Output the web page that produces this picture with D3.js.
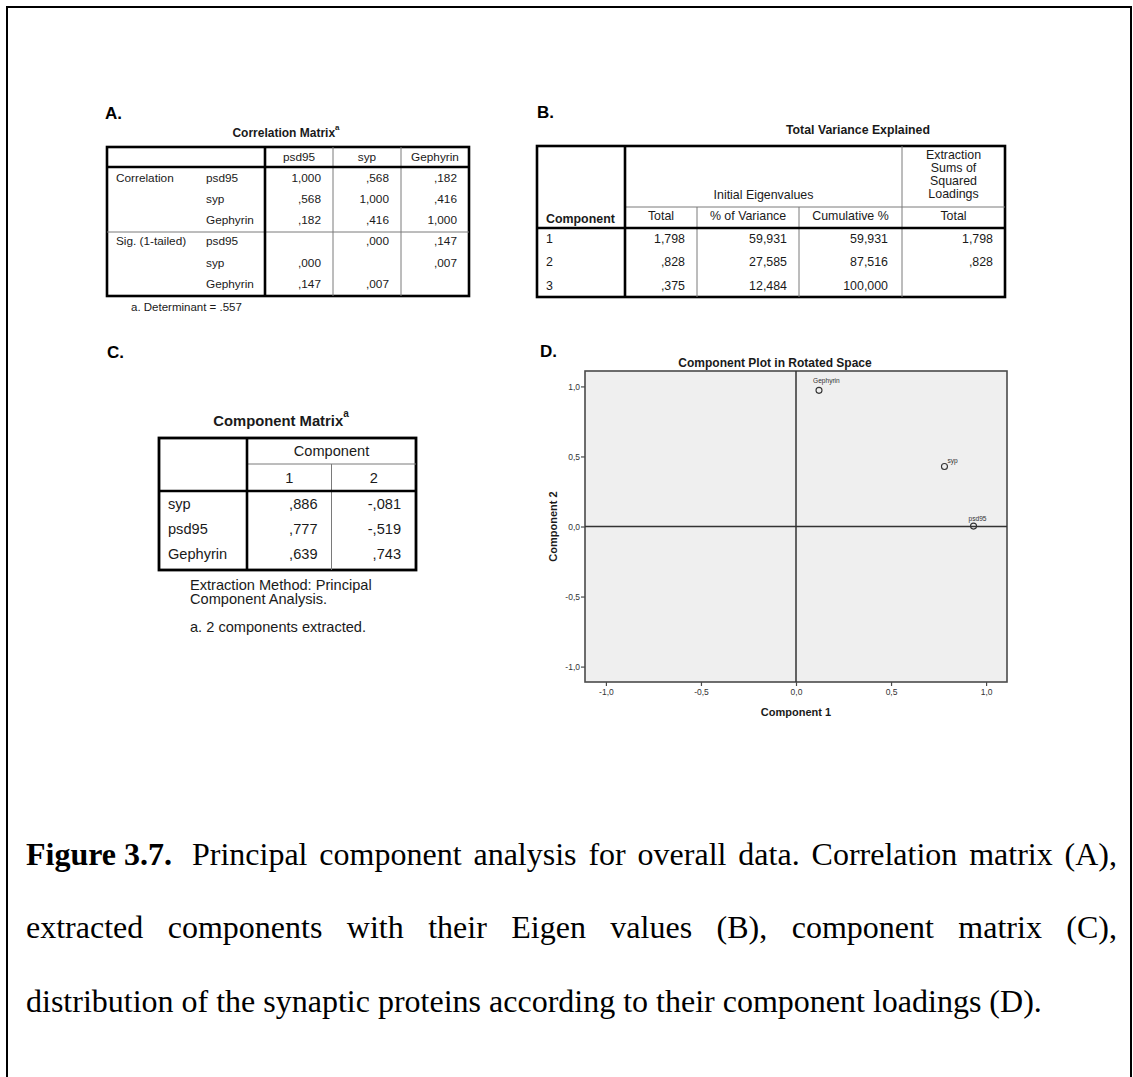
<!DOCTYPE html>
<html>
<head>
<meta charset="utf-8">
<script src="https://cdn.jsdelivr.net/npm/d3@7"></script>
<style>
  html, body { margin: 0; padding: 0; background: #fff; }
  svg { display: block; }
  text { font-family: "Liberation Sans", Arial, sans-serif; fill: #1a1a1a; }
  .serif { font-family: "Liberation Serif", "Times New Roman", serif; fill: #000; }
</style>
</head>
<body>
<script>
// ---- A. Correlation matrix ----
const corrVars = ["psd95", "syp", "Gephyrin"];
const corrValues = [
  [1.000, 0.568, 0.182],
  [0.568, 1.000, 0.416],
  [0.182, 0.416, 1.000]
];
const sigValues = [
  [null, 0.000, 0.147],
  [0.000, null, 0.007],
  [0.147, 0.007, null]
];
const determinant = ".557";

// ---- B. Total variance explained ----
const components = [1, 2, 3];
const eigenTotal = [1.798, 0.828, 0.375];
const eigenPctVariance = [59.931, 27.585, 12.484];
const eigenCumulative = [59.931, 87.516, 100.000];
const extractionTotal = [1.798, 0.828, null];

// ---- C. Component matrix ----
const loadingVars = ["syp", "psd95", "Gephyrin"];
const loadingComp1 = [0.886, 0.777, 0.639];
const loadingComp2 = [-0.081, -0.519, 0.743];

// ---- D. Rotated component loadings ----
const rotatedVars = ["psd95", "syp", "Gephyrin"];
const rotatedComp1 = [0.934, 0.781, 0.121];
const rotatedComp2 = [0.003, 0.428, 0.972];
const plotTicks = [-1.0, -0.5, 0.0, 0.5, 1.0];

// ---- Caption ----
const captionLines = [
  { bold: "Figure 3.7.", text: "Principal component analysis for overall data. Correlation matrix (A),", justify: true },
  { bold: "", text: "extracted components with their Eigen values (B), component matrix (C),", justify: true },
  { bold: "", text: "distribution of the synaptic proteins according to their component loadings (D).", justify: false }
];

// SPSS-style number formatting with decimal comma and no leading zero
function spss(v, digits = 3) {
  if (v === null || v === undefined) return "";
  let s = d3.format("." + digits + "f")(Math.abs(v));
  s = s.replace(/^0\./, ".").replace(".", ",");
  return (v < 0 ? "-" : "") + s;
}
const tickFmt = v => d3.format(".1f")(v).replace(".", ",").replace("−", "-");

const W = 1133, H = 1077;
const svg = d3.select("body").append("svg").attr("width", W).attr("height", H);

// page frame, open at the bottom
svg.append("path")
  .attr("d", `M7,${H} V7 H1131 V${H}`)
  .attr("fill", "none").attr("stroke", "#000").attr("stroke-width", 2);

function hline(g, x1, x2, y, thick) {
  g.append("line").attr("x1", x1).attr("x2", x2).attr("y1", y).attr("y2", y)
    .attr("stroke", thick ? "#000" : "#7a7a7a").attr("stroke-width", thick ? 2.6 : 1);
}
function vline(g, x, y1, y2, thick) {
  g.append("line").attr("x1", x).attr("x2", x).attr("y1", y1).attr("y2", y2)
    .attr("stroke", thick ? "#000" : "#7a7a7a").attr("stroke-width", thick ? 2.6 : 1);
}
function panelLetter(x, y, t) {
  svg.append("text").attr("x", x).attr("y", y).attr("font-size", 17)
    .attr("font-weight", "bold").style("fill", "#000").text(t);
}
function titleWithSup(x, y, size, t, supSize) {
  const tx = svg.append("text").attr("x", x).attr("y", y).attr("font-size", size)
    .attr("font-weight", "bold").attr("text-anchor", "middle");
  tx.append("tspan").text(t);
  if (supSize) tx.append("tspan").attr("dy", -size * 0.6).attr("font-size", supSize).text("a");
}

// ================= A =================
panelLetter(105, 119, "A.");
titleWithSup(286, 137, 12, "Correlation Matrix", 8);
{
  const g = svg.append("g").attr("font-size", 11.8);
  const left = 107, right = 469, top = 147, headBottom = 167, bottom = 296, labelEdge = 265;
  const colX = d3.scaleBand().domain(corrVars).range([labelEdge, right]);
  const rowY = d3.scaleLinear().domain([0, 5]).range([181.5, 288]);

  g.append("rect").attr("x", left).attr("y", top).attr("width", right - left).attr("height", bottom - top)
    .attr("fill", "none").attr("stroke", "#000").attr("stroke-width", 2.6);
  corrVars.slice(1).forEach(v => vline(g, colX(v), top, bottom, false));
  hline(g, left, right, 232, false);
  hline(g, left, right, headBottom, true);
  vline(g, labelEdge, top, bottom, true);

  g.selectAll("text.head").data(corrVars).join("text")
    .attr("x", d => colX(d) + colX.bandwidth() / 2).attr("y", 161)
    .attr("text-anchor", "middle").text(d => d);

  const sections = [{ name: "Correlation", rows: corrValues }, { name: "Sig. (1-tailed)", rows: sigValues }];
  sections.forEach((sec, si) => {
    g.append("text").attr("x", 116).attr("y", rowY(si * 3)).text(sec.name);
    sec.rows.forEach((row, ri) => {
      const idx = si * 3 + ri;
      g.append("text").attr("x", 206).attr("y", rowY(idx)).text(corrVars[ri]);
      g.selectAll(null).data(row).join("text")
        .attr("x", (d, ci) => colX(corrVars[ci]) + colX.bandwidth() - 12)
        .attr("y", rowY(idx)).attr("text-anchor", "end")
        .text(d => spss(d));
    });
  });
  svg.append("text").attr("x", 131).attr("y", 311).attr("font-size", 11.5)
    .text("a. Determinant = " + determinant);
}

// ================= B =================
panelLetter(537, 118, "B.");
titleWithSup(858, 134, 12.3, "Total Variance Explained", 0);
{
  const g = svg.append("g").attr("font-size", 12.4);
  const left = 537, right = 1005, top = 146, midHead = 207, headBottom = 228, bottom = 297;
  const colKeys = ["total", "pct", "cum", "ext"];
  const colLeft = d3.scaleOrdinal().domain(colKeys).range([625, 697, 799, 902]);
  const colRight = d3.scaleOrdinal().domain(colKeys).range([697, 799, 902, 1005]);
  const colHead = ["Total", "% of Variance", "Cumulative %", "Total"];
  const rowY = d3.scalePoint().domain(components).range([242.5, 289.5]);

  g.append("rect").attr("x", left).attr("y", top).attr("width", right - left).attr("height", bottom - top)
    .attr("fill", "none").attr("stroke", "#000").attr("stroke-width", 2.6);
  hline(g, 625, right, midHead, false);
  vline(g, 697, midHead, bottom, false);
  vline(g, 799, midHead, bottom, false);
  vline(g, 902, top, bottom, false);
  vline(g, 625, top, bottom, true);
  hline(g, left, right, headBottom, true);

  g.append("text").attr("x", (625 + 902) / 2).attr("y", 198.5).attr("text-anchor", "middle").text("Initial Eigenvalues");
  g.selectAll("text.ext").data(["Extraction", "Sums of", "Squared", "Loadings"]).join("text")
    .attr("x", (902 + 1005) / 2).attr("y", (d, i) => 158.5 + i * 13.3).attr("text-anchor", "middle").text(d => d);
  g.selectAll("text.colhead").data(colKeys).join("text")
    .attr("x", d => (colLeft(d) + colRight(d)) / 2).attr("y", 219.5).attr("text-anchor", "middle")
    .text((d, i) => colHead[i]);
  g.append("text").attr("x", 546).attr("y", 222.5).attr("font-weight", "bold").text("Component");

  const cols = { total: eigenTotal, pct: eigenPctVariance, cum: eigenCumulative, ext: extractionTotal };
  components.forEach((c, i) => {
    g.append("text").attr("x", 546).attr("y", rowY(c)).text(c);
    colKeys.forEach(k => {
      g.append("text").attr("x", colRight(k) - (k === "cum" ? 14 : 12)).attr("y", rowY(c))
        .attr("text-anchor", "end").text(spss(cols[k][i]));
    });
  });
}

// ================= C =================
panelLetter(107, 358, "C.");
titleWithSup(281, 426, 14.8, "Component Matrix", 10);
{
  const g = svg.append("g").attr("font-size", 14.6);
  const left = 159, right = 416, top = 438, midHead = 464, headBottom = 491, bottom = 570, labelEdge = 247;
  const compKeys = [1, 2];
  const colX = d3.scaleBand().domain(compKeys).range([labelEdge, right]);
  const rowY = d3.scalePoint().domain(loadingVars).range([508.5, 559]);

  g.append("rect").attr("x", left).attr("y", top).attr("width", right - left).attr("height", bottom - top)
    .attr("fill", "none").attr("stroke", "#000").attr("stroke-width", 2.8);
  hline(g, labelEdge, right, midHead, false);
  vline(g, colX(2), midHead, bottom, false);
  hline(g, left, right, headBottom, true);
  vline(g, labelEdge, top, bottom, true);

  g.append("text").attr("x", (labelEdge + right) / 2).attr("y", 456).attr("text-anchor", "middle").text("Component");
  g.selectAll("text.ch").data(compKeys).join("text")
    .attr("x", d => colX(d) + colX.bandwidth() / 2).attr("y", 482.5).attr("text-anchor", "middle").text(d => d);

  loadingVars.forEach((v, i) => {
    g.append("text").attr("x", 168).attr("y", rowY(v)).text(v);
    g.append("text").attr("x", colX(1) + colX.bandwidth() - 14).attr("y", rowY(v)).attr("text-anchor", "end").text(spss(loadingComp1[i]));
    g.append("text").attr("x", colX(2) + colX.bandwidth() - 15).attr("y", rowY(v)).attr("text-anchor", "end").text(spss(loadingComp2[i]));
  });

  const notes = svg.append("g").attr("font-size", 14.6);
  notes.append("text").attr("x", 190).attr("y", 590).text("Extraction Method: Principal");
  notes.append("text").attr("x", 190).attr("y", 604).text("Component Analysis.");
  notes.append("text").attr("x", 190).attr("y", 632).text("a. 2 components extracted.");
}

// ================= D =================
panelLetter(540, 357, "D.");
{
  const g = svg.append("g");
  const x = d3.scaleLinear().domain([-1.11, 1.11]).range([585, 1007]);
  const y = d3.scaleLinear().domain([-1.11, 1.11]).range([682, 371]);

  g.append("text").attr("x", 775).attr("y", 367).attr("text-anchor", "middle")
    .attr("font-size", 12).attr("font-weight", "bold").text("Component Plot in Rotated Space");

  g.append("rect").attr("x", x.range()[0]).attr("y", y.range()[1])
    .attr("width", x.range()[1] - x.range()[0]).attr("height", y.range()[0] - y.range()[1])
    .attr("fill", "#efefef").attr("stroke", "#4a4a4a").attr("stroke-width", 1.6);

  // reference lines through the origin
  g.append("line").attr("x1", x(0)).attr("x2", x(0)).attr("y1", y.range()[1]).attr("y2", y.range()[0])
    .attr("stroke", "#333").attr("stroke-width", 1.5);
  g.append("line").attr("x1", x.range()[0]).attr("x2", x.range()[1]).attr("y1", y(0)).attr("y2", y(0))
    .attr("stroke", "#333").attr("stroke-width", 1.5);

  const ax = g.append("g").attr("transform", `translate(0,${y.range()[0]})`)
    .call(d3.axisBottom(x).tickValues(plotTicks).tickSize(4).tickPadding(3).tickFormat(tickFmt));
  const ay = g.append("g").attr("transform", `translate(${x.range()[0]},0)`)
    .call(d3.axisLeft(y).tickValues(plotTicks).tickSize(4).tickPadding(1).tickFormat(tickFmt));
  [ax, ay].forEach(a => {
    a.select(".domain").remove();
    a.selectAll(".tick line").attr("stroke", "#4a4a4a").attr("stroke-width", 1.2);
    a.selectAll(".tick text").attr("font-size", 8.5).style("fill", "#333")
      .attr("font-family", "'Liberation Sans', Arial, sans-serif");
  });

  g.append("text").attr("x", x(0)).attr("y", 716).attr("text-anchor", "middle")
    .attr("font-size", 11).attr("font-weight", "bold").text("Component 1");
  g.append("text").attr("transform", `translate(557,${y(0)}) rotate(-90)`).attr("text-anchor", "middle")
    .attr("font-size", 11).attr("font-weight", "bold").text("Component 2");

  const labelShift = { psd95: [-5, -5], syp: [3, -4], Gephyrin: [-6, -7] };
  const pts = rotatedVars.map((v, i) => ({ v, c1: rotatedComp1[i], c2: rotatedComp2[i] }));
  g.selectAll("circle.pt").data(pts).join("circle")
    .attr("cx", d => x(d.c1)).attr("cy", d => y(d.c2)).attr("r", 3)
    .attr("fill", "none").attr("stroke", "#333").attr("stroke-width", 1.1);
  g.selectAll("text.pl").data(pts).join("text")
    .attr("x", d => x(d.c1) + labelShift[d.v][0]).attr("y", d => y(d.c2) + labelShift[d.v][1])
    .attr("font-size", 6.6).style("fill", "#333").text(d => d.v);
}

// ================= Caption (justified, serif) =================
{
  const g = svg.append("g");
  const x0 = 26, x1 = 1117, fs = 32;
  const baselines = [865, 938, 1012];
  captionLines.forEach((line, li) => {
    const tokens = [];
    if (line.bold) tokens.push({ t: line.bold, bold: true });
    line.text.split(" ").forEach(w => tokens.push({ t: w, bold: false }));
    const nodes = tokens.map(tok => g.append("text").attr("class", "serif")
      .attr("font-size", fs).attr("font-weight", tok.bold ? "bold" : "normal")
      .attr("y", baselines[li]).text(tok.t));
    const widths = nodes.map(n => n.node().getComputedTextLength());
    const total = d3.sum(widths);
    const space = fs * 0.25;
    const extra = line.bold ? fs * 0.25 : 0;
    const gap = line.justify ? (x1 - x0 - total - extra) / (tokens.length - 1) : space;
    let cx = x0;
    nodes.forEach((n, i) => {
      n.attr("x", cx);
      cx += widths[i] + gap + (tokens[i].bold ? extra : 0);
    });
  });
}
</script>
</body>
</html>
